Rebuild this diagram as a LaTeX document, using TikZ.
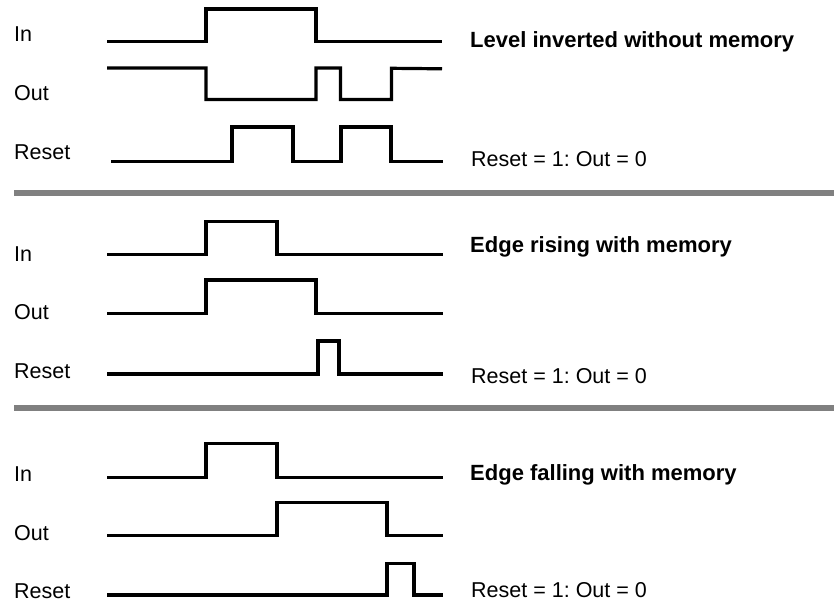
\documentclass[tikz,border=0pt]{standalone}
\usepackage{fontspec}
\setmainfont{Liberation Sans}
\definecolor{sepgray}{HTML}{808080}
\tikzset{
  sig/.style={line width=3.2pt, line join=miter, line cap=butt, black},
  sepbar/.style={line width=6pt, sepgray, line cap=butt},
  lbl/.style={anchor=base west, inner sep=0pt, font=\fontsize{21.5}{24}\selectfont},
  ttl/.style={anchor=base west, inner sep=0pt, font=\fontsize{22}{26}\selectfont\bfseries},
}
\begin{document}
\begin{tikzpicture}[x=1pt,y=-1pt]
\useasboundingbox (0,0) rectangle (834,602);

% ---------- Panel 1: Level inverted without memory ----------
\node[lbl] (in1) at (14,41.7) {In};
\node[lbl] (out1) at (14,100) {Out};
\node[lbl] (res1) at (14,159.3) {Reset};
\node[ttl] (t1) at (470,47.3) {Level inverted without memory};
\node[lbl] (r1) at (471,166) {Reset = 1:\ Out = 0};

\draw[sig] (107,41.7) -- (206,41.7) -- (206,9) -- (316,9) -- (316,41.7) -- (442,41.7);
\draw[sig] (107,68) -- (206,68) -- (206,99.5) -- (316,99.5) -- (316,68) -- (340.5,68) -- (340.5,99.5) -- (391.5,99.5) -- (391.5,68.3) -- (442,68.8);
\draw[sig] (111,161.7) -- (232,161.7) -- (232,127) -- (293,127) -- (293,161.7) -- (341,161.7) -- (341,127) -- (391,127) -- (391,161.7) -- (443,161.7);

\draw[sepbar] (14,193) -- (834,193);

% ---------- Panel 2: Edge rising with memory ----------
\node[lbl] (in2) at (14,261.7) {In};
\node[lbl] (out2) at (14,319) {Out};
\node[lbl] (res2) at (14,378) {Reset};
\node[ttl] (t2) at (470,252.7) {Edge rising with memory};
\node[lbl] (r2) at (471,383) {Reset = 1:\ Out = 0};

\draw[sig] (107,254.3) -- (206,254.3) -- (206,221.7) -- (277,221.7) -- (277,254.3) -- (443,254.3);
\draw[sig] (107,313.3) -- (206,313.3) -- (206,280) -- (316,280) -- (316,313.3) -- (443,313.3);
\draw[sig] (107,374) -- (318,374) -- (318,341) -- (339,341) -- (339,374) -- (443,374);

\draw[sepbar] (14,408) -- (834,408);

% ---------- Panel 3: Edge falling with memory ----------
\node[lbl] (in3) at (14,481.7) {In};
\node[lbl] (out3) at (14,540) {Out};
\node[lbl] (res3) at (14,598) {Reset};
\node[ttl] (t3) at (470,480) {Edge falling with memory};
\node[lbl] (r3) at (471,597) {Reset = 1:\ Out = 0};

\draw[sig] (107,477.3) -- (206,477.3) -- (206,443.3) -- (277,443.3) -- (277,477.3) -- (443,477.3);
\draw[sig] (107,535.7) -- (277,535.7) -- (277,502.3) -- (387,502.3) -- (387,535.7) -- (443,535.7);
\draw[sig] (107,595) -- (387,595) -- (387,563.3) -- (414,563.3) -- (414,595) -- (443,595);
\end{tikzpicture}
\end{document}
